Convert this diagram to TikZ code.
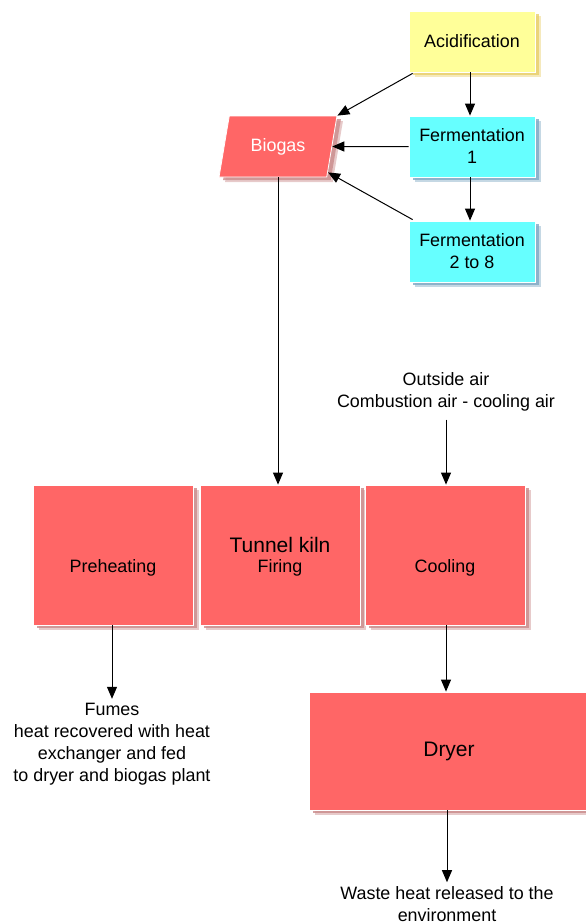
\documentclass[tikz,border=0pt]{standalone}
\usepackage{fontspec}
\setmainfont{Liberation Sans}
\usetikzlibrary{arrows.meta,shapes.geometric,shadows,calc}
\definecolor{redfill}{HTML}{FF6666}
\definecolor{redshade}{HTML}{C98A8A}
\definecolor{yelfill}{HTML}{FFFF99}
\definecolor{yelshade}{HTML}{E8CF6A}
\definecolor{cyanfill}{HTML}{66FFFF}
\definecolor{cyanshade}{HTML}{7FA8C4}
\tikzset{
  txt/.style={font=\fontsize{17.9}{22}\selectfont, align=center, inner sep=0pt},
  bigtxt/.style={font=\fontsize{21}{24}\selectfont, align=center, inner sep=0pt},
  shade/.style={drop shadow={shadow xshift=6pt, shadow yshift=-5pt, fill=#1, opacity=0.45},
                drop shadow={shadow xshift=4pt, shadow yshift=-3pt, fill=#1, opacity=0.8}},
  box/.style={draw=white, line width=0.8pt, inner sep=0pt, txt},
  yelbox/.style={box, fill=yelfill, shade=yelshade, minimum width=126pt, minimum height=61pt},
  cyanbox/.style={box, fill=cyanfill, shade=cyanshade, minimum width=126pt, minimum height=61pt},
  redbox/.style={box, fill=redfill, shade=redshade},
  conn/.style={-{Triangle[length=12pt,width=10pt]}, line width=1pt},
}
\begin{document}
\begin{tikzpicture}[x=1pt,y=-1pt]
\useasboundingbox (0,0) rectangle (586,924);

% anaerobic digestion chain
\node[yelbox] (acid) at (472,41.5) {Acidification};
\node[cyanbox] (ferm1) at (472,146.5) {Fermentation\\1};
\node[cyanbox] (ferm2) at (472,251.5) {Fermentation\\2 to 8};

% biogas store
\node[trapezium, trapezium left angle=71, trapezium right angle=109,
      trapezium stretches=true, minimum width=118pt, minimum height=61pt,
      inner sep=0pt, fill=redfill, draw=white, line width=0.8pt, shade=redshade,
      text=white, txt] (biogas) at (278,146.5) {Biogas};

% tunnel kiln sections
\node[redbox, minimum width=160pt, minimum height=140pt] (pre) at (113,555) {};
\node[redbox, minimum width=160pt, minimum height=140pt] (kiln) at (280,555) {};
\node[redbox, minimum width=160pt, minimum height=140pt] (cool) at (445,555) {};
\node[txt] (pretxt) at ($(pre.center)+(0,13)$) {Preheating};
\node[bigtxt] (kilntxt) at ($(kiln.center)+(0,-10)$) {Tunnel kiln};
\node[txt] (firetxt) at ($(kiln.center)+(0,13)$) {Firing};
\node[txt] (cooltxt) at ($(cool.center)+(0,13)$) {Cooling};

% dryer
\node[redbox, minimum width=280pt, minimum height=118pt, bigtxt] (dryer) at (449,751) {Dryer};

% free texts
\node[txt] (air) at (446,392) {Outside air\\Combustion air - cooling air};
\node[txt] (fumes) at (112,744) {Fumes\\heat recovered with heat\\exchanger and fed\\to dryer and biogas plant};
\node[txt] (waste) at (447,904) {Waste heat released to the\\environment};

% connectors
\draw[conn] ($(acid.south west)+(4,1)$) -- (biogas.top right corner);
\draw[conn] (acid.south -| 470,0) -- (ferm1.north -| 470,0);
\draw[conn] (ferm1.west) -- (biogas.east);
\draw[conn] (ferm1.south -| 470,0) -- (ferm2.north -| 470,0);
\draw[conn] ($(ferm2.north west)+(4,-1)$) -- ($(biogas.bottom right corner)+(1,-5)$);
\draw[conn] (biogas.south) -- (biogas.south |- kiln.north);
\draw[conn] ($(air.south)+(0,8)$) -- (air.south |- cool.north);
\draw[conn] (pre.south -| fumes.north) -- ($(fumes.north)+(0,-4)$);
\draw[conn] (cool.south -| 446,0) -- (dryer.north -| 446,0);
\draw[conn] (dryer.south -| waste.north) -- ($(waste.north)+(0,-4)$);
\end{tikzpicture}
\end{document}
